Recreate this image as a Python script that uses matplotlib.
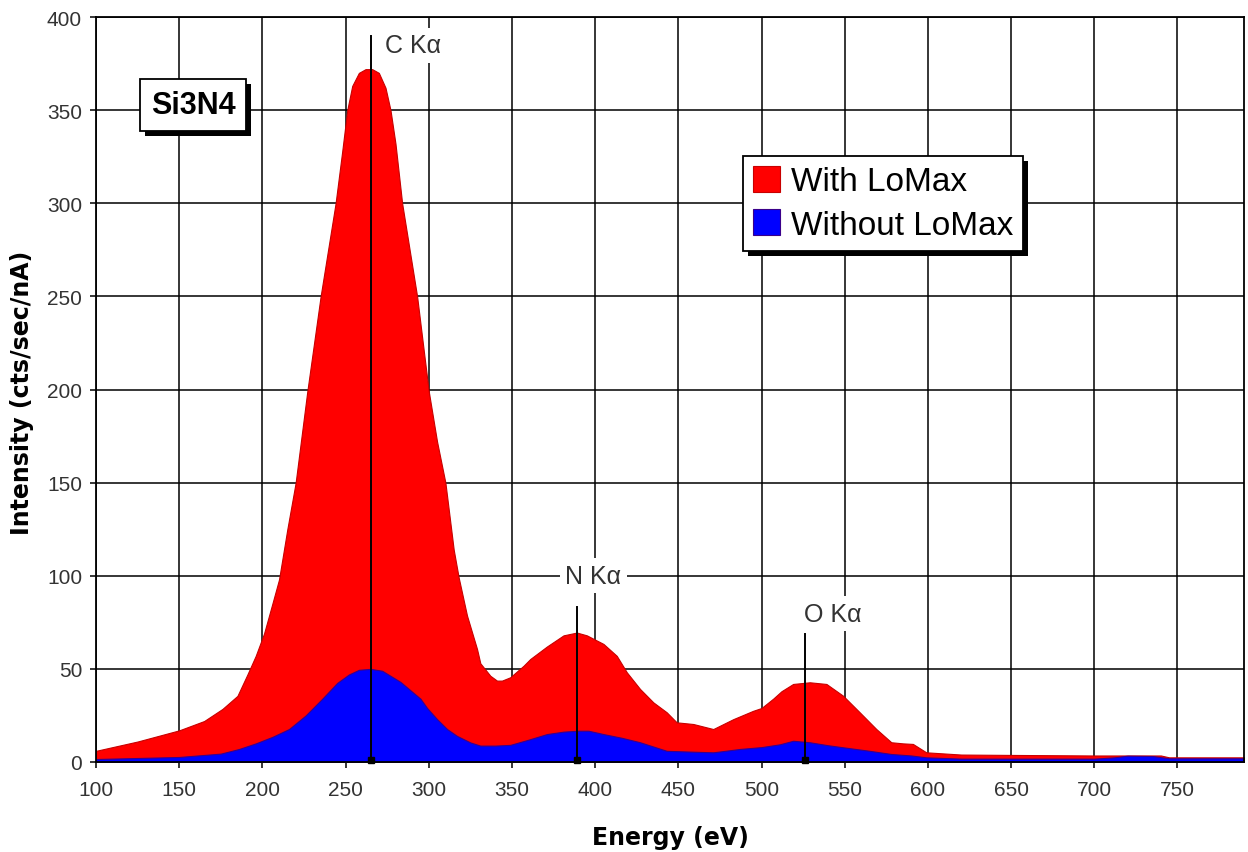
import matplotlib
matplotlib.use("Agg")
import matplotlib.pyplot as plt
from matplotlib.patches import Rectangle
from matplotlib.transforms import IdentityTransform

plt.rcParams["font.family"] = ["Liberation Sans", "DejaVu Sans"]

# With LoMax (red)
red_energy = [100, 125, 150, 165, 176, 185, 191, 196, 201, 206, 210, 215, 220,
              227, 235, 244, 248, 251, 254, 258, 262, 266, 270, 274, 277, 280,
              284, 293, 300, 305, 310, 315, 318, 323, 329, 331, 337, 341, 344,
              349, 357, 361, 371, 381, 389, 395, 405, 413, 419, 427, 435, 443,
              449, 459, 471, 483, 495, 500, 507, 512, 519, 529, 539, 549, 559,
              569, 578, 585, 591, 599, 620, 650, 700, 740, 745, 790]
red_counts = [6, 11, 17, 22, 28.5, 35.5, 47, 57, 69, 85, 98, 125, 150,
              199, 250, 300, 328, 350, 363, 370, 372, 372, 370, 362, 350, 332,
              300, 250, 199, 172, 150, 114, 99, 78.6, 60.7, 53, 46.3, 43.7, 43.7,
              45.5, 51.7, 55.3, 62, 68, 69.5, 68, 63.4, 57, 48.2, 39.2, 32, 26.7,
              21.3, 20.4, 17.7, 23, 27.5, 29, 34, 38, 41.9, 42.8, 41.9, 35.6, 26.7,
              17.7, 10.6, 10, 9.7, 5.2, 4, 3.8, 3.5, 3.5, 2.5, 2.5]

# Without LoMax (blue)
blue_energy = [100, 150, 175, 186, 196, 206, 216, 226, 236, 245, 252, 258, 265,
               272, 283, 295, 299, 305, 311, 317, 325, 331, 340, 349, 360, 371,
               381, 390, 396, 405, 416, 427, 443, 460, 471, 487, 500, 511, 519,
               529, 540, 549, 565, 578, 590, 599, 620, 700, 712, 720, 735, 745, 790]
blue_counts = [1.6, 2.7, 4.5, 7, 10, 13.5, 17.7, 25, 34, 42.5, 47, 49.5, 50,
               49, 43, 34, 29, 23, 17.7, 14, 10.5, 8.8, 8.8, 9.2, 12, 15,
               16.3, 16.8, 16.8, 15, 13, 10.6, 6, 5.5, 5.2, 7, 8, 9.5, 11.4,
               10.6, 9, 7.9, 6, 4.3, 3.5, 2.5, 1.8, 1.8, 2.5, 3.4, 3.2, 2, 2]

# peak markers: line position, line top, label position
peak_names = ["C K\u03b1", "N K\u03b1", "O K\u03b1"]
peak_energy = [265, 389, 526]
peak_top = [390, 83, 68.7]
label_x = [290.5, 399, 542.6]
label_y = [384.7, 100, 79.5]

xticks = list(range(100, 751, 50))
yticks = list(range(0, 401, 50))

fig = plt.figure(figsize=(12.48, 8.53), dpi=100)
ax = fig.add_axes([96 / 1248, 90 / 853, 1148 / 1248, 745 / 853])

ax.fill_between(red_energy, red_counts, 0, color="#ff0000", edgecolor="#c80000",
                lw=0.8, zorder=2, label="With LoMax")
ax.fill_between(blue_energy, blue_counts, 0, color="#0000ff", edgecolor="#3a008a",
                lw=0.8, zorder=2.1, label="Without LoMax")

ax.set_xlim(100, 790)
ax.set_ylim(0, 400)
ax.set_xticks(xticks)
ax.set_yticks(yticks)
ax.set_axisbelow(True)
ax.grid(True, color="black", lw=1.1)
for sp in ax.spines.values():
    sp.set_color("black")
    sp.set_linewidth(1.3)
ax.tick_params(direction="out", length=4, width=1.1, colors="black",
               labelcolor="#333333", labelsize=15)
ax.tick_params(axis="x", pad=9)
ax.tick_params(axis="y", pad=6)

for name, e, top, lx, ly in zip(peak_names, peak_energy, peak_top, label_x, label_y):
    ax.plot([e, e], [0, top], color="black", lw=1.4, zorder=3)
    ax.plot([e], [1.2], marker="s", ms=4, color="black", zorder=3, clip_on=False)
    ax.text(lx, ly, name, fontsize=18, color="#333333", ha="center", va="center",
            zorder=4, bbox=dict(facecolor="white", edgecolor="none", pad=4))

# sample label box
sample = ax.text(158.4, 352.8, "Si3N4", fontsize=22, fontweight="bold",
                 ha="center", va="center", zorder=4.6,
                 bbox=dict(boxstyle="square,pad=0.35", facecolor="white",
                           edgecolor="black", lw=1.3))

leg = ax.legend(loc="upper left", bbox_to_anchor=(0.5636, 0.8134), borderaxespad=0,
                fontsize=24, fancybox=False, framealpha=1, edgecolor="black",
                handlelength=0.8, handleheight=0.8, handletextpad=0.33,
                borderpad=0.3, labelspacing=0.36)
leg.get_frame().set_linewidth(1.3)
leg.set_zorder(5)

fig.text(22 / 1248, 1 - 393 / 853, "Intensity (cts/sec/nA)", rotation=90,
         ha="center", va="center", fontsize=17, fontweight="bold",
         family="DejaVu Sans")
fig.text(670 / 1248, 1 - 838 / 853, "Energy (eV)", ha="center", va="center",
         fontsize=17, fontweight="bold", family="DejaVu Sans")

# hard drop shadows behind the sample box and the legend
fig.canvas.draw()
for bb, z in [(sample.get_bbox_patch().get_window_extent(), 4.5),
              (leg.get_window_extent(), 4.9)]:
    ax.add_artist(Rectangle((bb.x0 + 5, bb.y0 - 5), bb.width, bb.height,
                            transform=IdentityTransform(), facecolor="black",
                            edgecolor="none", zorder=z))

fig.savefig("out.png", dpi=100)
